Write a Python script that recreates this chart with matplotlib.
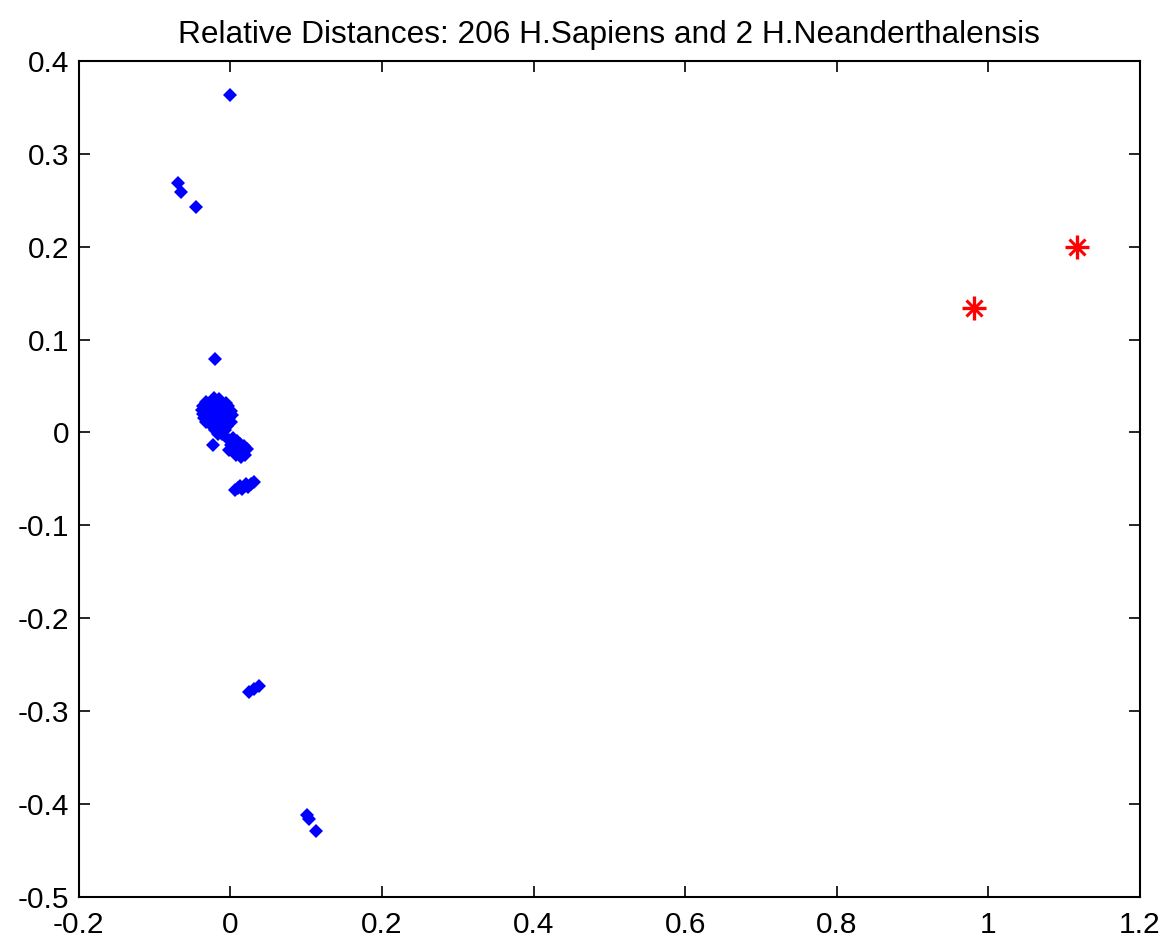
import matplotlib.pyplot as plt

plt.rcParams["font.family"] = ["Liberation Sans", "DejaVu Sans"]

# 2-D coordinates of the H. sapiens samples (many overlap in the central cluster)
sapiens_x = [
    # outliers
    -0.0004, -0.0686, -0.0650, -0.0452, -0.0202, -0.0232,
    0.0251, 0.0318, 0.0383, 0.1008, 0.1042, 0.1126,
    # main cluster
    -0.0215, -0.0150,
    -0.0321, -0.0255, -0.0189, -0.0123, -0.0060,
    -0.0360, -0.0294, -0.0228, -0.0162, -0.0096, -0.0030,
    -0.0373, -0.0307, -0.0241, -0.0175, -0.0109, -0.0044, 0.0009,
    -0.0360, -0.0294, -0.0228, -0.0162, -0.0096, -0.0030, 0.0022,
    -0.0347, -0.0281, -0.0215, -0.0149, -0.0083, -0.0017,
    -0.0321, -0.0255, -0.0189, -0.0123, -0.0057, 0.0009,
    -0.0241, -0.0175, -0.0109, -0.0044,
    -0.0202, -0.0136, -0.0070,
    -0.0162, -0.0109,
    # second cluster
    -0.0017, 0.0036, 0.0088, 0.0009, 0.0062, 0.0128, 0.0181, 0.0220,
    -0.0017, 0.0036, 0.0102, 0.0154, 0.0194, 0.0075, 0.0141,
    # lower cluster
    0.0062, 0.0102, 0.0154, 0.0194, 0.0233, 0.0273, 0.0313, 0.0128, 0.0207,
]
sapiens_y = [
    0.3635, 0.2689, 0.2592, 0.2424, 0.0787, -0.0136,
    -0.2793, -0.2767, -0.2731, -0.4121, -0.4167, -0.4297,
    0.0370, 0.0365,
    0.0327, 0.0330, 0.0320, 0.0330, 0.0318,
    0.0284, 0.0290, 0.0280, 0.0287, 0.0278, 0.0284,
    0.0241, 0.0245, 0.0238, 0.0244, 0.0236, 0.0243, 0.0235,
    0.0198, 0.0202, 0.0195, 0.0200, 0.0193, 0.0199, 0.0190,
    0.0155, 0.0158, 0.0152, 0.0157, 0.0150, 0.0156,
    0.0112, 0.0116, 0.0110, 0.0114, 0.0108, 0.0113,
    0.0069, 0.0072, 0.0066, 0.0070,
    0.0026, 0.0030, 0.0024,
    -0.0017, -0.0014,
    -0.0082, -0.0060, -0.0093, -0.0136, -0.0146, -0.0125, -0.0146, -0.0179,
    -0.0190, -0.0200, -0.0190, -0.0211, -0.0243, -0.0243, -0.0265,
    -0.0620, -0.0599, -0.0610, -0.0577, -0.0588, -0.0556, -0.0534, -0.0577, -0.0556,
]

neander_x = [0.9814, 1.1165]
neander_y = [0.1343, 0.2000]

xticks = [-0.2, 0, 0.2, 0.4, 0.6, 0.8, 1, 1.2]
yticks = [-0.5, -0.4, -0.3, -0.2, -0.1, 0, 0.1, 0.2, 0.3, 0.4]

fig = plt.figure(figsize=(11.66, 9.41), dpi=100)
ax = fig.add_axes([0.0675, 0.0471, 0.9102, 0.8881])

ax.plot(sapiens_x, sapiens_y, linestyle="none", marker="D", markersize=6.8,
        color="#0000ff", markeredgewidth=0)
# MATLAB-style asterisk: plus and cross drawn on top of each other
ax.plot(neander_x, neander_y, linestyle="none", marker="+", markersize=17,
        color="#ff0000", markeredgewidth=2.4)
ax.plot(neander_x, neander_y, linestyle="none", marker="x", markersize=11,
        color="#ff0000", markeredgewidth=2.2)
ax.plot(neander_x, neander_y, linestyle="none", marker="s", markersize=5,
        color="#ff0000", markeredgewidth=0)

ax.set_xlim(-0.2, 1.2)
ax.set_ylim(-0.5, 0.4)
ax.set_xticks(xticks, [f"{t:g}" for t in xticks])
ax.set_yticks(yticks, [f"{t:g}" for t in yticks])
ax.tick_params(direction="in", length=8, width=1.2, top=True, right=True,
               labelsize=21.5, colors="black")
ax.tick_params(axis="x", pad=10)
ax.tick_params(axis="y", pad=7)
for side in ax.spines.values():
    side.set_linewidth(1.5)

ax.set_title("Relative Distances: 206 H.Sapiens and 2 H.Neanderthalensis",
             fontsize=22.8, pad=13)

fig.savefig("out.png", dpi=100)
